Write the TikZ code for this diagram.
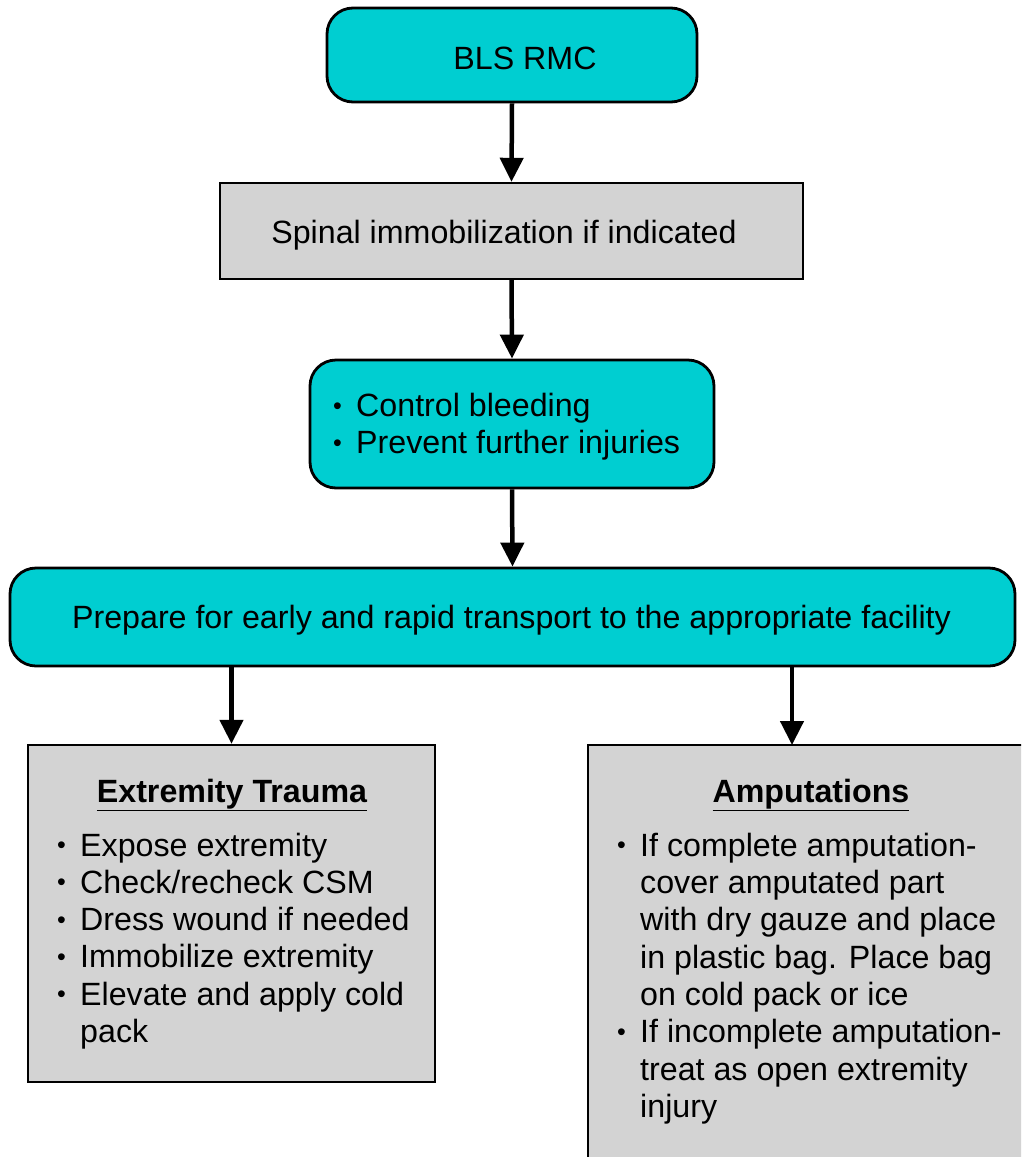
\documentclass[tikz,border=0pt]{standalone}
\usepackage{fontspec}
\setmainfont{Liberation Sans}
\usetikzlibrary{arrows.meta,calc}
\definecolor{tealbox}{RGB}{0,206,209}
\definecolor{graybox}{RGB}{211,211,211}
\newcommand{\bul}{\makebox[25pt][l]{\hspace*{2pt}\raisebox{2.5pt}{\fontsize{25}{25}\selectfont •}}}
\newcommand{\ind}{\hspace*{25pt}}
\begin{document}
\begin{tikzpicture}[x=1pt,y=-1pt,
  every node/.style={font=\fontsize{32.2}{37.3}\selectfont},
  roundbox/.style={draw=black,line width=2.8pt,fill=tealbox,rounded corners=26pt,inner sep=0pt},
  squarebox/.style={draw=black,line width=2.4pt,fill=graybox,inner sep=0pt},
  arr/.style={line width=4.5pt,-{Triangle[length=24pt,width=23pt]}},
  listtext/.style={align=left,inner sep=0pt,anchor=west}]
\useasboundingbox (0,0) rectangle (1021,1157);
\clip (0,0) rectangle (1021,1157);
\fill[white] (0,0) rectangle (1021,1157);

\node[roundbox,minimum width=370pt,minimum height=94pt] (bls) at (512,55) {};
\node (blstxt) at (525,58) {BLS RMC};
\node[squarebox,minimum width=583pt,minimum height=96pt] (spinal) at (511.5,231) {};
\node (spinaltxt) at (504,235) {Spinal immobilization if indicated};
\node[roundbox,minimum width=404pt,minimum height=128pt] (bleed) at (512,424) {};
\node[listtext] (bleedtxt) at (331,427) {\bul Control bleeding\\ \bul Prevent further injuries};
\node[roundbox,minimum width=1005pt,minimum height=98pt] (prep) at (512.5,617) {};
\node (preptxt) at (511.5,620) {Prepare for early and rapid transport to the appropriate facility};

\node[squarebox,minimum width=407pt,minimum height=337pt] (ext) at (231.5,913.5) {};
\node[font=\fontsize{32.2}{37.3}\selectfont\bfseries] (exttitle) at (232,795) {\underline{Extremity Trauma}};
\node[listtext] (exttxt) at (55,941) {\bul Expose extremity\\ \bul Check/recheck CSM\\ \bul Dress wound if needed\\ \bul Immobilize extremity\\ \bul Elevate and apply cold\\ \ind pack};

\node[squarebox,minimum width=460pt,minimum height=440pt] (amp) at (818,965) {};
\node[font=\fontsize{32.2}{37.3}\selectfont\bfseries] (amptitle) at (811,795) {\underline{Amputations}};
\node[listtext] (amptxt) at (615,978.5) {\bul If complete amputation-\\ \ind cover amputated part\\ \ind with dry gauze and place\\ \ind in plastic bag. Place bag\\ \ind on cold pack or ice\\ \bul If incomplete amputation-\\ \ind treat as open extremity\\ \ind injury};

\coordinate (ampin) at (792,745);
\draw[arr] (bls.south) -- (spinal.north);
\draw[arr] (spinal.south) -- (bleed.north);
\draw[arr] (bleed.south) -- (prep.north);
\draw[arr] (prep.south -| ext.north) -- (ext.north);
\draw[arr] (prep.south -| ampin) -- (ampin);
\end{tikzpicture}
\end{document}
